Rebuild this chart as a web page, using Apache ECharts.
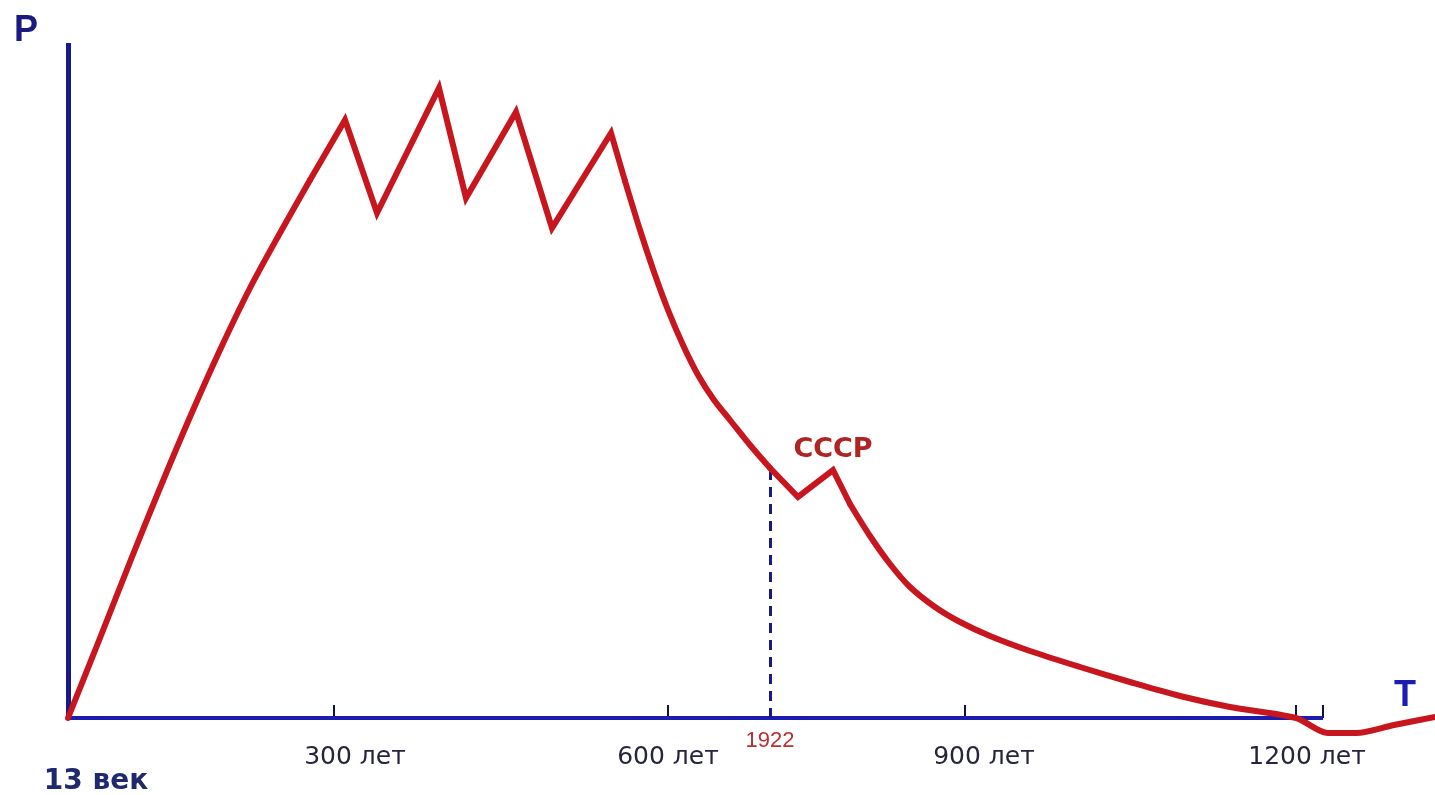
<!DOCTYPE html>
<html>
<head>
<meta charset="utf-8">
<script src="https://cdn.jsdelivr.net/npm/echarts@6/dist/echarts.min.js"></script>
<style>
html,body{margin:0;padding:0;background:#fff;}
#chart{width:1435px;height:795px;}
</style>
</head>
<body>
<div id="chart"></div>
<script>
// Curve: position along T, level P
const tValues = [0, 32, 62, 92, 122, 152, 182, 212, 242, 277,
  309, 371, 398, 448, 484, 543,
  557, 572, 586, 600, 615, 630, 646, 662, 682, 702, 730, 765,
  782, 802, 822, 842, 867, 892, 922, 962, 1012, 1062, 1112, 1162, 1228,
  1260, 1288, 1326, 1367];
const pValues = [0, 80, 156, 230, 301, 368, 430, 485, 538, 598,
  505, 630, 520, 606, 490, 585,
  537, 488, 446, 408, 373, 343, 318, 298, 273, 250, 221, 248,
  214, 182, 154, 131, 111, 96, 82, 67, 51, 36, 22, 11, 0,
  -15, -15, -7, 1];

// index ranges of the curve: smooth stretches and sharp (straight) stretches
const segments = [
  { from: 0, to: 8, smooth: true },
  { from: 8, to: 16, smooth: false },
  { from: 16, to: 25, smooth: true },
  { from: 25, to: 28, smooth: false },
  { from: 28, to: 44, smooth: true }
];

const axisEndT = 1255;
const topP = 675;
const tickValues = [266, 600, 897, 1228, 1255];
const labelValues = [28, 287, 600, 916, 1239];
const labelTexts = ['13 век', '300 лет', '600 лет', '900 лет', '1200 лет'];

const marker1922 = [702, 248];
const markerUSSR = [765, 248];

const curve = tValues.map((t, i) => [t, pValues[i]]);
const RED = '#c8161e';

const series = segments.map((s, k) => ({
  type: 'line',
  data: curve.slice(s.from, s.to + 1),
  symbol: 'none',
  smooth: s.smooth ? 0.3 : false,
  clip: false,
  z: 3,
  lineStyle: { color: RED, width: 6, join: 'miter', cap: 'round' }
}));

series[0].markLine = {
  silent: true, symbol: ['none', 'none'], z: 2,
  label: { show: false },
  data: [
    [{ coord: [0, 0], lineStyle: { color: '#1c1cb0', width: 4, type: 'solid' } }, { coord: [axisEndT, 0] }],
    [{ coord: [0, 0], lineStyle: { color: '#1a1a80', width: 5, type: 'solid' } }, { coord: [0, topP] }],
    [{ coord: [marker1922[0], 0], lineStyle: { color: '#1a1a80', width: 3, type: [10, 7] },
       label: { show: true, position: 'start', distance: 12, formatter: '1922',
         fontFamily: 'Liberation Sans', fontSize: 22, color: '#b83030' } },
     { coord: marker1922 }]
  ]
};
series[0].markPoint = {
  silent: true,
  data: [{ coord: markerUSSR, symbol: 'circle', symbolSize: 1, itemStyle: { color: 'rgba(0,0,0,0)' },
    label: { show: true, position: 'top', distance: 6, formatter: 'СССР',
      fontFamily: 'DejaVu Sans', fontSize: 27, fontWeight: 'bold', color: '#b02424' } }]
};

const chart = echarts.init(document.getElementById('chart'));
chart.setOption({
  animation: false,
  backgroundColor: '#ffffff',
  grid: { left: 68, right: 0, top: 43, bottom: 57, containLabel: false, outerBoundsMode: 'none' },
  xAxis: {
    type: 'value', min: 0, max: 1367,
    axisLine: { show: false, onZero: true },
    axisTick: { show: true, inside: true, length: 13, customValues: tickValues,
      lineStyle: { color: '#121240', width: 2 } },
    axisLabel: {
      customValues: labelValues,
      margin: 7,
      fontFamily: 'DejaVu Sans', fontSize: 25, color: '#25253d',
      formatter: function (v) {
        const i = labelValues.indexOf(v);
        const s = i >= 0 ? labelTexts[i] : '';
        return i === 0 ? '{b|' + s + '}' : s;
      },
      rich: { b: { fontFamily: 'DejaVu Sans', fontSize: 28, fontWeight: 'bold', color: '#1f2a6e', padding: [23, 0, 0, 0] } }
    },
    splitLine: { show: false },
    name: 'T', nameLocation: 'end', nameGap: -41,
    nameTextStyle: { fontFamily: 'Liberation Sans', fontSize: 36, fontWeight: 'bold', color: '#1c1cb0',
      verticalAlign: 'bottom', padding: [0, 0, 4, 0] }
  },
  yAxis: {
    type: 'value', min: -20, max: topP,
    axisLine: { show: false, onZero: true },
    axisTick: { show: false }, axisLabel: { show: false }, splitLine: { show: false },
    name: 'P', nameLocation: 'end', nameGap: -6,
    nameTextStyle: { fontFamily: 'Liberation Sans', fontSize: 36, fontWeight: 'bold', color: '#1a1a80', padding: [0, 84, 0, 0] }
  },
  series: series
});
</script>
</body>
</html>
